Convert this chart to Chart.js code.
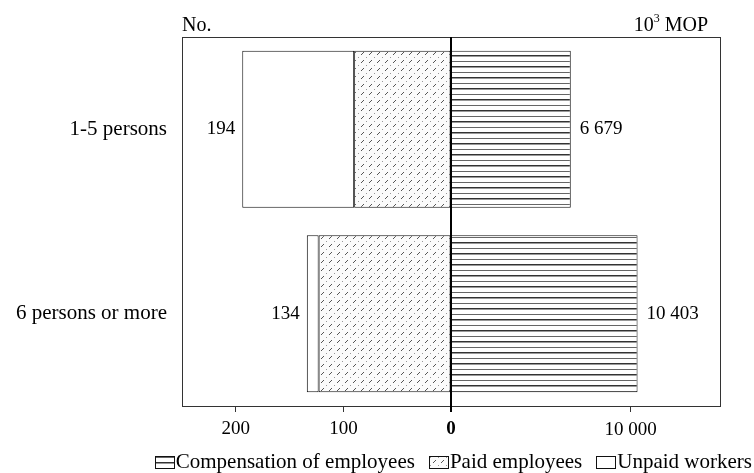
<!DOCTYPE html>
<html>
<head>
<meta charset="utf-8">
<script src="https://cdn.jsdelivr.net/npm/chart.js@4"></script>
<style>
  html, body { margin: 0; padding: 0; background: #fff; }
</style>
</head>
<body>
<canvas id="chart" width="754" height="473"></canvas>
<script>
const categories = ['1-5 persons', '6 persons or more'];
// left half: number of persons engaged
const paidEmployees = [90, 123];
const unpaidWorkers = [104, 11];
// right half: compensation of employees, 10^3 MOP
const compensation = [6679, 10403];
const leftTicks = [200, 100, 0];
const rightTicks = [10000];

const SERIF = '"Liberation Serif", "Times New Roman", serif';
const wordSize = 21;   // category names and legend
const numSize = 19;    // ticks and value labels
const unitSize = 20;   // "No." / "10³ MOP"

function fmt(n) {
  return String(n).replace(/\B(?=(\d{3})+(?!\d))/g, ' ');
}

// dotted diagonal hatch for paid employees
function hatchPattern() {
  const c = document.createElement('canvas');
  c.width = 8; c.height = 8;
  const g = c.getContext('2d');
  g.fillStyle = '#fbfbfb';
  g.fillRect(0, 0, 8, 8);
  g.fillStyle = '#555';
  g.fillRect(1, 6, 1, 1);
  g.fillRect(2, 5, 1, 1);
  g.fillRect(3, 4, 1, 1);
  g.fillStyle = '#999';
  g.fillRect(6, 1, 1, 1);
  return g.createPattern(c, 'repeat');
}

// horizontal rules for compensation
function linePattern() {
  const c = document.createElement('canvas');
  c.width = 4; c.height = 11;
  const g = c.getContext('2d');
  g.fillStyle = '#fff';
  g.fillRect(0, 0, 4, 11);
  g.fillStyle = '#333';
  g.fillRect(0, 0, 4, 1);
  g.fillStyle = '#9a9a9a';
  g.fillRect(0, 1, 4, 1);
  g.fillStyle = '#666';
  g.fillRect(0, 6, 4, 1);
  return g.createPattern(c, 'repeat');
}

const hatch = hatchPattern();
const rules = linePattern();

const decorations = {
  id: 'decorations',
  afterDatasetsDraw(chart) {
    const ctx = chart.ctx;
    const a = chart.chartArea;
    const xNo = chart.scales.xNo;
    const xMop = chart.scales.xMop;
    ctx.save();

    // frame
    ctx.strokeStyle = '#333';
    ctx.lineWidth = 1;
    ctx.strokeRect(Math.round(a.left) + 0.5, Math.round(a.top) + 0.5,
      Math.round(a.right - a.left), Math.round(a.bottom - a.top));

    // zero line
    const x0 = xNo.getPixelForValue(0);
    ctx.strokeStyle = '#000';
    ctx.lineWidth = 2;
    ctx.beginPath();
    ctx.moveTo(x0, a.top);
    ctx.lineTo(x0, a.bottom + 6);
    ctx.stroke();

    // right-hand ticks
    ctx.lineWidth = 1;
    ctx.strokeStyle = '#333';
    ctx.fillStyle = '#000';
    ctx.font = numSize + 'px ' + SERIF;
    ctx.textAlign = 'center';
    ctx.textBaseline = 'middle';
    rightTicks.forEach(v => {
      const x = Math.round(xMop.getPixelForValue(v)) + 0.5;
      ctx.beginPath();
      ctx.moveTo(x, a.bottom);
      ctx.lineTo(x, a.bottom + 6);
      ctx.stroke();
      ctx.fillText(fmt(v), x, a.bottom + 24);
    });

    // value labels
    const unpaidMeta = chart.getDatasetMeta(1);
    unpaidMeta.data.forEach((bar, i) => {
      ctx.textAlign = 'right';
      ctx.fillText(fmt(paidEmployees[i] + unpaidWorkers[i]), bar.x - 7, bar.y);
    });
    const compMeta = chart.getDatasetMeta(2);
    compMeta.data.forEach((bar, i) => {
      ctx.textAlign = 'left';
      ctx.fillText(fmt(compensation[i]), bar.x + 9, bar.y);
    });

    // unit captions
    ctx.textBaseline = 'alphabetic';
    ctx.textAlign = 'left';
    ctx.font = unitSize + 'px ' + SERIF;
    ctx.fillText('No.', a.left, a.top - 6);
    const unitRight = a.right - 12;
    const mop = ' MOP';
    const wMop = ctx.measureText(mop).width;
    ctx.font = '12px ' + SERIF;
    const wSup = ctx.measureText('3').width;
    ctx.fillText('3', unitRight - wMop - wSup, a.top - 15);
    ctx.font = unitSize + 'px ' + SERIF;
    const wTen = ctx.measureText('10').width;
    ctx.fillText('10', unitRight - wMop - wSup - wTen, a.top - 6);
    ctx.fillText(mop, unitRight - wMop, a.top - 6);

    // legend, right-aligned along the bottom
    ctx.font = wordSize + 'px ' + SERIF;
    const order = [2, 0, 1];
    const boxW = 19, boxH = 12, gap = 2, itemGap = 14;
    const ly = 462;
    const widths = order.map(i => boxW + gap + ctx.measureText(chart.data.datasets[i].label).width);
    let lx = chart.width - 2 - widths.reduce((s, w) => s + w, 0) - itemGap * (order.length - 1);
    ctx.textBaseline = 'middle';
    ctx.lineWidth = 1;
    order.forEach((i, k) => {
      const ds = chart.data.datasets[i];
      const bx = Math.round(lx);
      ctx.fillStyle = ds.backgroundColor;
      ctx.fillRect(bx, ly - boxH / 2, boxW, boxH);
      ctx.strokeStyle = '#111';
      ctx.strokeRect(bx + 0.5, Math.round(ly - boxH / 2) + 0.5, boxW, boxH);
      ctx.fillStyle = '#000';
      ctx.fillText(ds.label, lx + boxW + gap, ly);
      lx += widths[k] + itemGap;
    });

    ctx.restore();
  }
};

new Chart(document.getElementById('chart'), {
  type: 'bar',
  data: {
    labels: categories,
    datasets: [
      {
        label: 'Paid employees',
        data: paidEmployees.map(v => -v),
        xAxisID: 'xNo',
        backgroundColor: hatch,
        borderColor: '#111',
        borderWidth: 1,
        borderSkipped: false
      },
      {
        label: 'Unpaid workers',
        data: unpaidWorkers.map(v => -v),
        xAxisID: 'xNo',
        backgroundColor: '#fff',
        borderColor: '#111',
        borderWidth: 1,
        borderSkipped: false
      },
      {
        label: 'Compensation of employees',
        data: compensation,
        xAxisID: 'xMop',
        backgroundColor: rules,
        borderColor: '#111',
        borderWidth: 1,
        borderSkipped: false
      }
    ]
  },
  options: {
    indexAxis: 'y',
    responsive: false,
    animation: false,
    layout: { padding: { top: 37, right: 34, left: 0, bottom: 0 } },
    datasets: {
      bar: { grouped: false, categoryPercentage: 1, barPercentage: 0.85 }
    },
    scales: {
      y: {
        type: 'category',
        position: 'left',
        afterFit: s => { s.width = 182; },
        grid: { display: false, tickLength: 0 },
        border: { display: false },
        ticks: { padding: 15, color: '#000', font: { family: SERIF, size: wordSize } }
      },
      xNo: {
        type: 'linear',
        position: 'bottom',
        stacked: true,
        min: -250,
        max: 250,
        afterBuildTicks: s => { s.ticks = leftTicks.map(v => ({ value: -v })); },
        afterFit: s => { s.height = 67; },
        grid: { drawOnChartArea: false, tickLength: 6, color: '#333' },
        border: { display: false },
        ticks: {
          padding: 6,
          color: '#000',
          maxRotation: 0,
          font: c => ({ family: SERIF, size: numSize, weight: c.tick && c.tick.value === 0 ? 'bold' : 'normal' }),
          callback: v => fmt(Math.abs(v))
        }
      },
      xMop: {
        type: 'linear',
        display: false,
        min: -15000,
        max: 15000
      }
    },
    plugins: {
      legend: { display: false },
      tooltip: { enabled: false }
    }
  },
  plugins: [decorations]
});
</script>
</body>
</html>
